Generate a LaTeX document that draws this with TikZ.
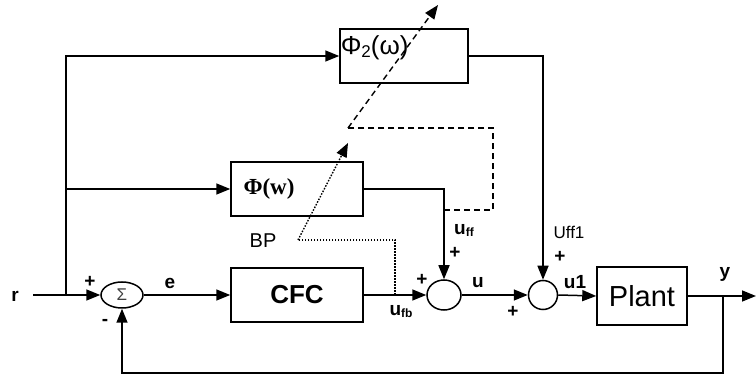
\documentclass[tikz,border=0pt]{standalone}
\usepackage{fontspec}
\setmainfont{Liberation Sans}
\newfontfamily\serifb{Liberation Serif}
\usetikzlibrary{shapes.geometric,arrows.meta}
\begin{document}
\begin{tikzpicture}[x=1pt,y=-1pt,
  line width=1.5pt,
  blk/.style={draw,rectangle,inner sep=0pt},
  sumnode/.style={draw,ellipse,inner sep=0pt},
  arr/.style={-{Triangle[length=14pt,width=11pt]}},
  lbl/.style={inner sep=0pt,font=\bfseries\fontsize{19}{19}\selectfont},
  pl/.style={inner sep=0pt,font=\bfseries\fontsize{19}{19}\selectfont}]
\useasboundingbox (0,0) rectangle (756,379);
% blocks
\node[blk,minimum width=128pt,minimum height=54pt] (phi2) at (404,56) {};
\node[inner sep=0pt,anchor=west,font=\fontsize{26}{26}\selectfont] (phi2t) at (340,48) {Φ{\fontsize{17}{17}\selectfont\raisebox{-3pt}{2}}(ω)};
\node[blk,minimum width=132pt,minimum height=54pt] (phi) at (297,189) {};
\node[inner sep=0pt,font=\serifb\bfseries\fontsize{23}{23}\selectfont] (phit) at (269,189) {Φ(w)};
\node[blk,minimum width=132pt,minimum height=54pt,font=\bfseries\fontsize{26}{26}\selectfont] (cfc) at (297,295) {CFC};
\node[blk,minimum width=90pt,minimum height=58pt,font=\fontsize{29}{29}\selectfont] (plant) at (642,296) {Plant};
\node[sumnode,minimum width=42pt,minimum height=26pt,font=\fontsize{17}{17}\selectfont,text=darkgray] (sig) at (122,295) {Σ};
\node[sumnode,minimum width=34pt,minimum height=30pt] (s1) at (444,295) {};
\node[sumnode,minimum width=29pt,minimum height=29pt] (s2) at (543,295) {};
% coordinates
\coordinate (rs) at (33,295);
\coordinate (brA) at (66,295);
\coordinate (brB) at (66,189);
\coordinate (ybr) at (723,296);
\coordinate (yend) at (756,296);
\coordinate (fb) at (122,373);
\coordinate (dA) at (444,210);
\coordinate (dB) at (493,210);
\coordinate (dC) at (493,128);
\coordinate (dD) at (348,128);
\coordinate (dE) at (438,5);
\coordinate (pA) at (395,295);
\coordinate (pB) at (395,240);
\coordinate (pC) at (298,240);
\coordinate (pD) at (348,143);
% connectors
\draw[arr] (rs) -- (sig.west);
\draw[arr] (brA) |- (phi2.west);
\draw[arr] (brB) -- (phi.west);
\draw[arr] (sig.east) -- (cfc.west);
\draw[arr] (cfc.east) -- (s1.west);
\draw[arr] (phi.east) -| (s1.north);
\draw[arr] (s1.east) -- (s2.west);
\draw[arr] (phi2.east) -| (s2.north);
\draw[arr] (s2.east) -- (plant.west);
\draw[arr] (plant.east) -- (yend);
\draw[arr] (ybr) |- (fb) -- (sig.south);
% dashed and dotted
\draw[line width=1.4pt,dash pattern=on 6pt off 4pt] (dA) -- (dB) -- (dC) -- (dD);
\draw[line width=1.4pt,dash pattern=on 6pt off 4pt,-{Triangle[length=14pt,width=11pt]}] (dD) -- (dE);
\draw[line width=1.4pt,dash pattern=on 1.5pt off 1.5pt] (pA) -- (pB) -- (pC);
\draw[line width=1.4pt,dash pattern=on 1.5pt off 1.5pt,-{Triangle[length=14pt,width=11pt]}] (pC) -- (pD);
% labels
\node[pl] (lr) at (15,296) {r};
\node[pl] (lp1) at (90,282) {+};
\node[pl] (lm1) at (105,322) {-};
\node[lbl] (le) at (170,283) {e};
\node[inner sep=0pt,font=\fontsize{20}{20}\selectfont] (lbp) at (263,241) {BP};
\node[lbl] (luff) at (464,230) {u{\fontsize{12}{12}\selectfont\raisebox{-2pt}{ff}}};
\node[pl] (lp2) at (455,253) {+};
\node[pl] (lp3) at (422,280) {+};
\node[lbl] (lufb) at (401,312) {u{\fontsize{12}{12}\selectfont\raisebox{-2pt}{fb}}};
\node[lbl] (lu) at (478,283) {u};
\node[pl] (lp4) at (513,312) {+};
\node[inner sep=0pt,font=\fontsize{17}{17}\selectfont] (luff1) at (569,232) {Uff1};
\node[pl] (lp5) at (560,257) {+};
\node[lbl] (lu1) at (575,282) {u1};
\node[lbl] (ly) at (725,274) {y};
\end{tikzpicture}
\end{document}
